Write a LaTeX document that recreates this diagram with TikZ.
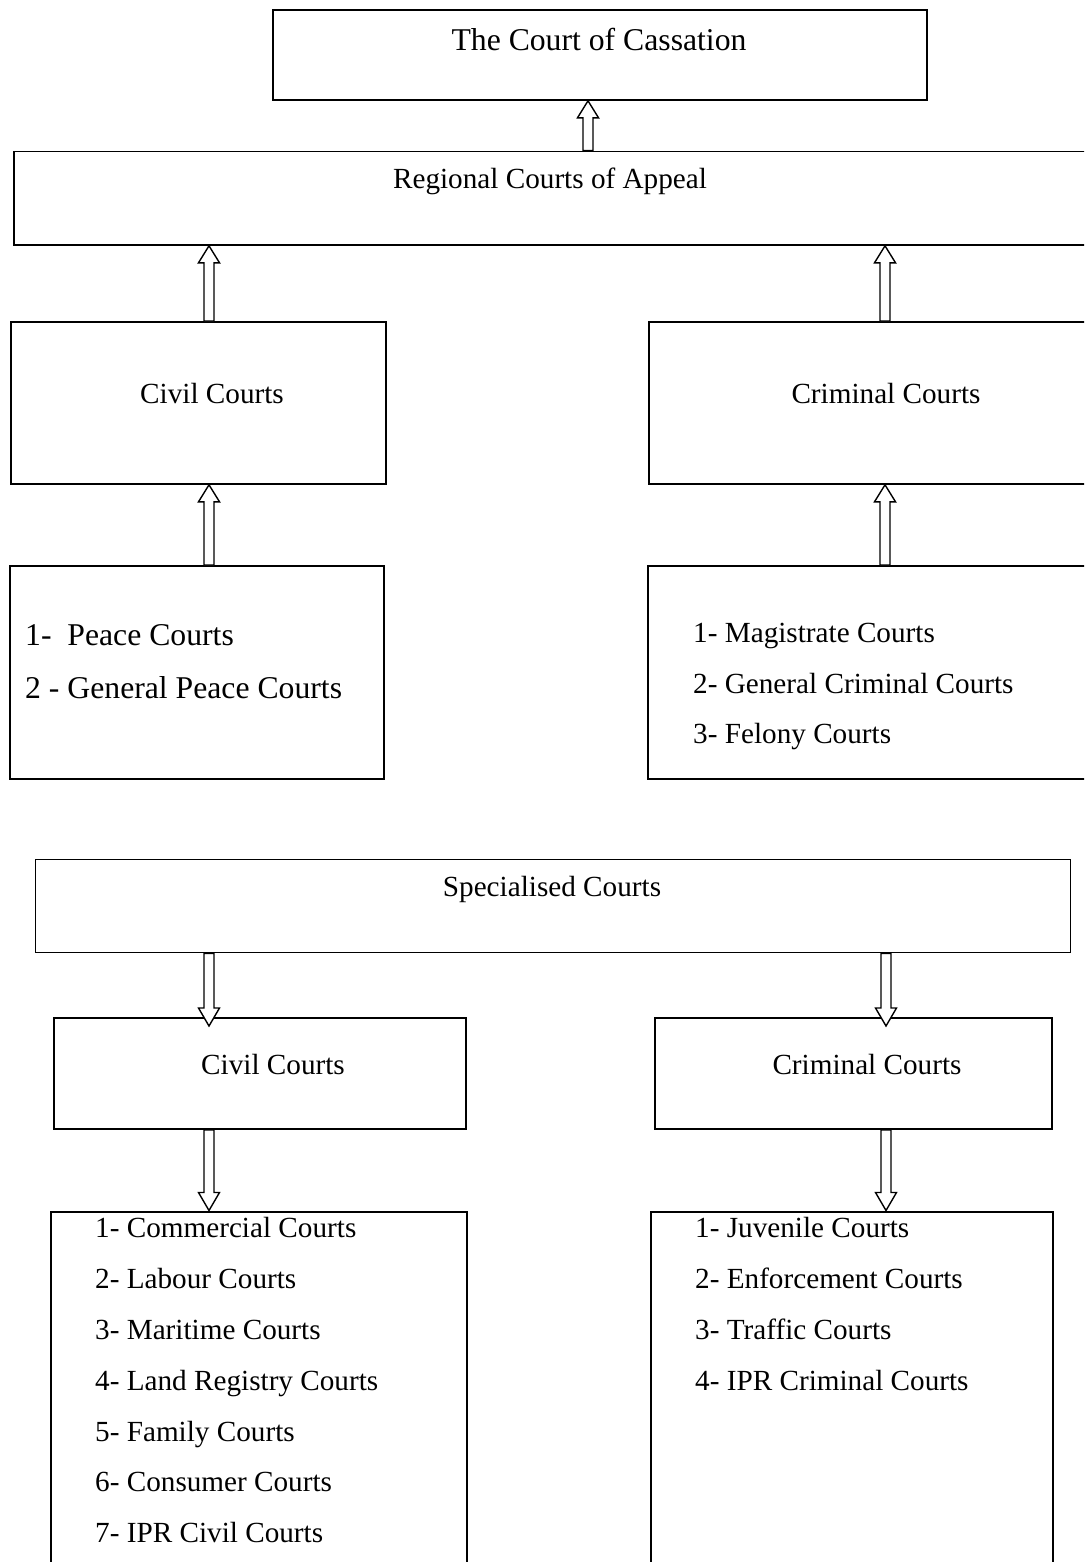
\documentclass[tikz,border=0pt]{standalone}
\usepackage{fontspec}
\setmainfont{Liberation Serif}
\usetikzlibrary{calc}
\tikzset{
  box/.style={draw=black, line width=1.8bp, fill=none, inner sep=0pt, anchor=north west},
  listbox/.style={box, line width=2.3bp},
  txt/.style={inner sep=0pt, font=\fontsize{29.2bp}{35bp}\selectfont},
  bigtxt/.style={inner sep=0pt, font=\fontsize{31.7bp}{38bp}\selectfont},
  barrow/.style={draw=black, fill=white, line width=1.4bp, line join=miter}
}
\newcommand\uparr[2]{\draw[barrow] let \p1=(#1), \p2=(#2) in
  (\x1-5bp,\y1) -- (\x1-5bp,\y2-17bp) -- (\x1-10.5bp,\y2-17bp) -- (\x1,\y2)
  -- (\x1+10.5bp,\y2-17bp) -- (\x1+5bp,\y2-17bp) -- (\x1+5bp,\y1) -- cycle;}
\newcommand\downarr[2]{\draw[barrow] let \p1=(#1), \p2=(#2) in
  (\x1-5bp,\y1) -- (\x1-5bp,\y2+18bp) -- (\x1-10.5bp,\y2+18bp) -- (\x1,\y2)
  -- (\x1+10.5bp,\y2+18bp) -- (\x1+5bp,\y2+18bp) -- (\x1+5bp,\y1) -- cycle;}
\begin{document}
\begin{tikzpicture}[x=1bp, y=-1bp]
\useasboundingbox (0,0) rectangle (1084,1562);
\fill[white] (0,0) rectangle (1084,1562);
\clip (0,0) rectangle (1084,1562);

% boxes
\node[box, minimum width=654bp, minimum height=90bp] (cas) at (272,9) {};
\node[box, minimum width=1100bp, minimum height=93.5bp] (reg) at (13,150.5) {};
\node[box, minimum width=375bp, minimum height=162bp] (civU) at (10,321) {};
\node[box, minimum width=500bp, minimum height=162bp] (crimU) at (648,321) {};
\node[listbox, minimum width=374bp, minimum height=213bp] (listL) at (9,565) {};
\node[listbox, minimum width=500bp, minimum height=213bp] (listR) at (647,565) {};
\node[box, minimum width=1035bp, minimum height=93bp] (spec) at (34.5,858.5) {};
\node[box, minimum width=412bp, minimum height=111bp] (civL) at (53,1017) {};
\node[box, minimum width=397bp, minimum height=111bp] (crimL) at (654,1017) {};
\node[listbox, minimum width=416bp, minimum height=400bp] (lstCL) at (50,1210.5) {};
\node[listbox, minimum width=402bp, minimum height=400bp] (lstCR) at (650,1210.5) {};

% texts
\node[bigtxt, anchor=base] (tcas) at (599,51) {The Court of Cassation};
\node[txt, anchor=base] (treg) at (550,188) {Regional Courts of Appeal};
\node[txt, anchor=base] (tcivU) at (212,403) {Civil Courts};
\node[txt, anchor=base] (tcrimU) at (886,403) {Criminal Courts};
\node[bigtxt, anchor=base west] (p1) at (25,645) {1-\ \ Peace Courts};
\node[bigtxt, anchor=base west] (p2) at (25,698) {2 - General Peace Courts};
\node[txt, anchor=base west] (m1) at (693,642) {1- Magistrate Courts};
\node[txt, anchor=base west] (m2) at (693,693) {2- General Criminal Courts};
\node[txt, anchor=base west] (m3) at (693,743) {3- Felony Courts};
\node[txt, anchor=base] (tspec) at (552,896) {Specialised Courts};
\node[txt, anchor=base] (tcivL) at (273,1074) {Civil Courts};
\node[txt, anchor=base] (tcrimL) at (867,1074) {Criminal Courts};
\node[txt, anchor=base west] (c1) at (95,1237) {1- Commercial Courts};
\node[txt, anchor=base west] (c2) at (95,1288) {2- Labour Courts};
\node[txt, anchor=base west] (c3) at (95,1339) {3- Maritime Courts};
\node[txt, anchor=base west] (c4) at (95,1390) {4- Land Registry Courts};
\node[txt, anchor=base west] (c5) at (95,1441) {5- Family Courts};
\node[txt, anchor=base west] (c6) at (95,1491.5) {6- Consumer Courts};
\node[txt, anchor=base west] (c7) at (95,1542) {7- IPR Civil Courts};
\node[txt, anchor=base west] (r1) at (695,1237) {1- Juvenile Courts};
\node[txt, anchor=base west] (r2) at (695,1288) {2- Enforcement Courts};
\node[txt, anchor=base west] (r3) at (695,1339) {3- Traffic Courts};
\node[txt, anchor=base west] (r4) at (695,1390) {4- IPR Criminal Courts};

% arrow columns
\coordinate (xC) at (588,0);
\coordinate (xL) at (209,0);
\coordinate (xR) at (885,0);
\coordinate (xR2) at (886,0);

\uparr{xC |- reg.north}{xC |- cas.south}
\uparr{xL |- civU.north}{xL |- reg.south}
\uparr{xR |- crimU.north}{xR |- reg.south}
\uparr{xL |- listL.north}{xL |- civU.south}
\uparr{xR |- listR.north}{xR |- crimU.south}
\downarr{xL |- spec.south}{$(xL |- civL.north)+(0,9)$}
\downarr{xR2 |- spec.south}{$(xR2 |- crimL.north)+(0,9)$}
\downarr{xL |- civL.south}{xL |- lstCL.north}
\downarr{xR2 |- crimL.south}{xR2 |- lstCR.north}
\end{tikzpicture}
\end{document}
